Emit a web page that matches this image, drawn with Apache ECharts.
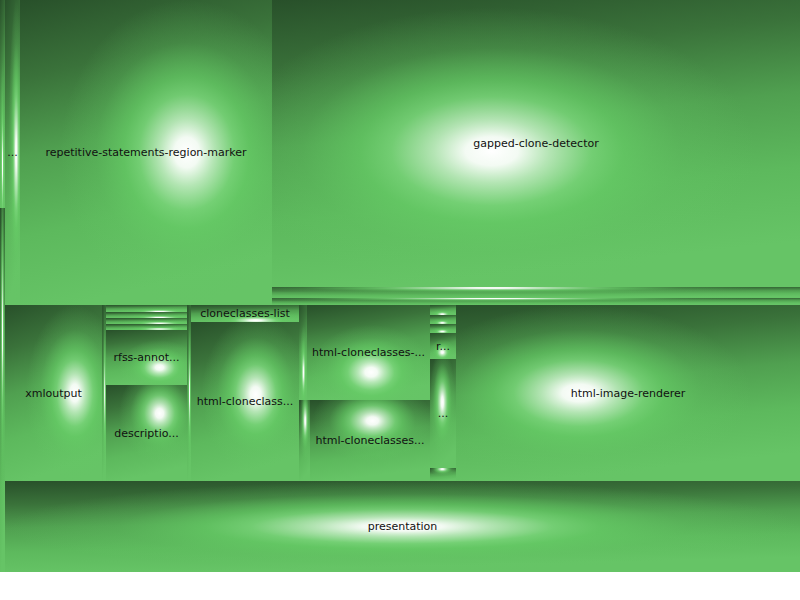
<!DOCTYPE html>
<html><head><meta charset="utf-8">
<script src="https://cdn.jsdelivr.net/npm/echarts@6/dist/echarts.min.js"></script>
<style>html,body{margin:0;padding:0;background:#fff}#main{width:800px;height:600px}</style>
</head><body><div id="main"></div>
<script>
// ---------------- data: cell values (areas) ----------------
const sideNames = ['', ''];
const sideValues = [1040, 1820];

const headNames = ['...'];
const headValues = [4575];

const markerNames = ['repetitive-statements-region-marker'];
const markerValues = [76860];

const detectorNames = ['gapped-clone-detector', '', ''];
const detectorValues = [151536, 5808, 3696];

const xmlNames = ['xmloutput', ''];
const xmlValues = [17072, 704];

const rfssNames = ['', '', '', '', 'rfss-annotator', 'description-writer'];
const rfssValues = [567, 486, 486, 486, 4455, 7776];

const spacerNames = [''];
const spacerValues = [704];

const cloneListNames = ['cloneclasses-list', 'html-cloneclass-table'];
const cloneListValues = [1836, 17172];

const htmlUpperNames = ['', 'html-cloneclasses-index'];
const htmlUpperValues = [760, 11685];
const htmlLowerNames = ['', 'html-cloneclasses-navigation'];
const htmlLowerValues = [891, 9720];

const reportNames = ['', '', '', 'r...', '...', ''];
const reportValues = [260, 234, 234, 676, 2834, 338];

const rendererNames = ['html-image-renderer'];
const rendererValues = [60544];

const presentationNames = ['presentation'];
const presentationValues = [72345];

// ---------------- styling ----------------
const SEP = 1e-7; // zero-size break so the squarify rows follow the picture
const radialStops = [
  {offset: 0, color: 'rgba(255,255,255,1)'},
  {offset: 0.1, color: 'rgba(248,253,248,0.97)'},
  {offset: 0.22, color: 'rgba(190,235,190,0.9)'},
  {offset: 0.38, color: 'rgba(120,212,120,0.85)'},
  {offset: 0.5, color: 'rgba(102,204,102,0.7)'},
  {offset: 0.72, color: 'rgba(100,200,100,0.25)'},
  {offset: 1, color: 'rgba(100,200,100,0)'}
];
const shadeFill = {type: 'linear', x: 0, y: 0, x2: 0.2, y2: 1, colorStops: [
  {offset: 0, color: '#28502a'},
  {offset: 0.25, color: '#3a723a'},
  {offset: 0.5, color: '#50a050'},
  {offset: 0.75, color: '#5db95d'},
  {offset: 1, color: '#66c466'}
]};
function leafStyle(cx, cy) {
  return {
    borderWidth: 0,
    color: {type: 'radial', x: cx, y: cy, r: 0.5, colorStops: radialStops},
    borderColor: shadeFill
  };
}
const groupStyle = {borderWidth: 0, borderColor: '#4a944a', color: '#4a944a'};
const sepStyle = {borderWidth: 0, borderColor: 'rgba(0,0,0,0)', color: 'rgba(0,0,0,0)'};

function leaves(names, values, label) {
  return names.map((n, i) => {
    const o = {name: n, value: values[i], itemStyle: leafStyle(0.5, 0.5)};
    if (label) o.label = label;
    return o;
  });
}
function sep() { return {name: '', value: SEP, itemStyle: sepStyle, label: {show: false}, isSep: true}; }
// breakRows: true -> every child gets its own row of the squarify layout
function box(kids, breakRows) {
  const children = [];
  kids.forEach((k, i) => { if (breakRows && i > 0) children.push(sep()); children.push(k); });
  return {name: '', children, itemStyle: groupStyle};
}

const side = box(leaves(sideNames, sideValues), true);
const head = leaves(headNames, headValues, {padding: 0});
const detector = box(leaves(detectorNames, detectorValues), false);
const topBand = box([...head, ...leaves(markerNames, markerValues), detector], true);

const xml = leaves(xmlNames, xmlValues);
const rfss = box(leaves(rfssNames, rfssValues), true);
const cloneCol = box(leaves(cloneListNames, cloneListValues), true);
const htmlPair = box([box(leaves(htmlUpperNames, htmlUpperValues), true),
                      box(leaves(htmlLowerNames, htmlLowerValues), true)], true);
const reports = box(leaves(reportNames, reportValues), true);
const midBand = box([...xml, rfss, ...leaves(spacerNames, spacerValues), cloneCol, htmlPair, reports,
                     ...leaves(rendererNames, rendererValues)], true);
const bottom = leaves(presentationNames, presentationValues);
const main = box([topBand, midBand, ...bottom], false);
const treeData = [side, sep(), main];

function makeOption() {
  return {
    animation: false,
    series: [{
      type: 'treemap',
      left: 0, top: 0, right: 0, bottom: 28,
      sort: false,
      squareRatio: 100,
      roam: false,
      nodeClick: false,
      breadcrumb: {show: false},
      itemStyle: {borderWidth: 0, gapWidth: 0},
      label: {show: true, position: 'inside', color: '#111', fontSize: 11,
              fontFamily: 'DejaVu Sans', padding: [0, 4.4]},
      upperLabel: {show: false},
      data: treeData
    }]
  };
}

const chart = echarts.init(document.getElementById('main'), null, {renderer: 'svg'});
chart.setOption(makeOption());

// Cushion-like light spot: after ECharts has laid the cells out, move each leaf's
// light toward the centre of its band (x) and of its enclosing column (y).
const tree = chart.getModel().getSeriesByIndex(0).getData().tree;
function clamp(v) { return Math.min(0.97, Math.max(0.03, v)); }
function visit(node, obj, ox, oy, chain) {
  const l = node.getLayout() || {};
  const r = {x: ox + (l.x || 0), y: oy + (l.y || 0), w: l.width || 0, h: l.height || 0};
  if (obj.children) {
    const next = chain.concat([{obj, r}]);
    (node.children || []).forEach((k, i) => visit(k, obj.children[i], r.x, r.y, next));
    return;
  }
  if (obj.isSep || !r.w || !r.h) return;
  const bandIdx = chain.findIndex(a => a.obj === main);
  const band = bandIdx >= 0 ? chain[bandIdx + 1] : chain[1];
  let fx = 0.5, fy = 0.5;
  if (band) {
    fx += 0.5 * (band.r.x + band.r.w / 2 - (r.x + r.w / 2)) / band.r.w;
    const from = chain.indexOf(band);
    for (let i = chain.length - 1; i >= from; i--) {
      const a = chain[i].r;
      if (a.h > r.h + 1) { fy += 0.9 * (a.y + a.h / 2 - (r.y + r.h / 2)) / a.h; break; }
    }
  }
  obj.itemStyle = leafStyle(clamp(fx), clamp(fy));
}
(tree.root.children || []).forEach((k, i) => visit(k, treeData[i], 0, 0, [{obj: null, r: {x: 0, y: 0, w: 800, h: 572}}]));
chart.setOption(makeOption(), true);
</script></body></html>
